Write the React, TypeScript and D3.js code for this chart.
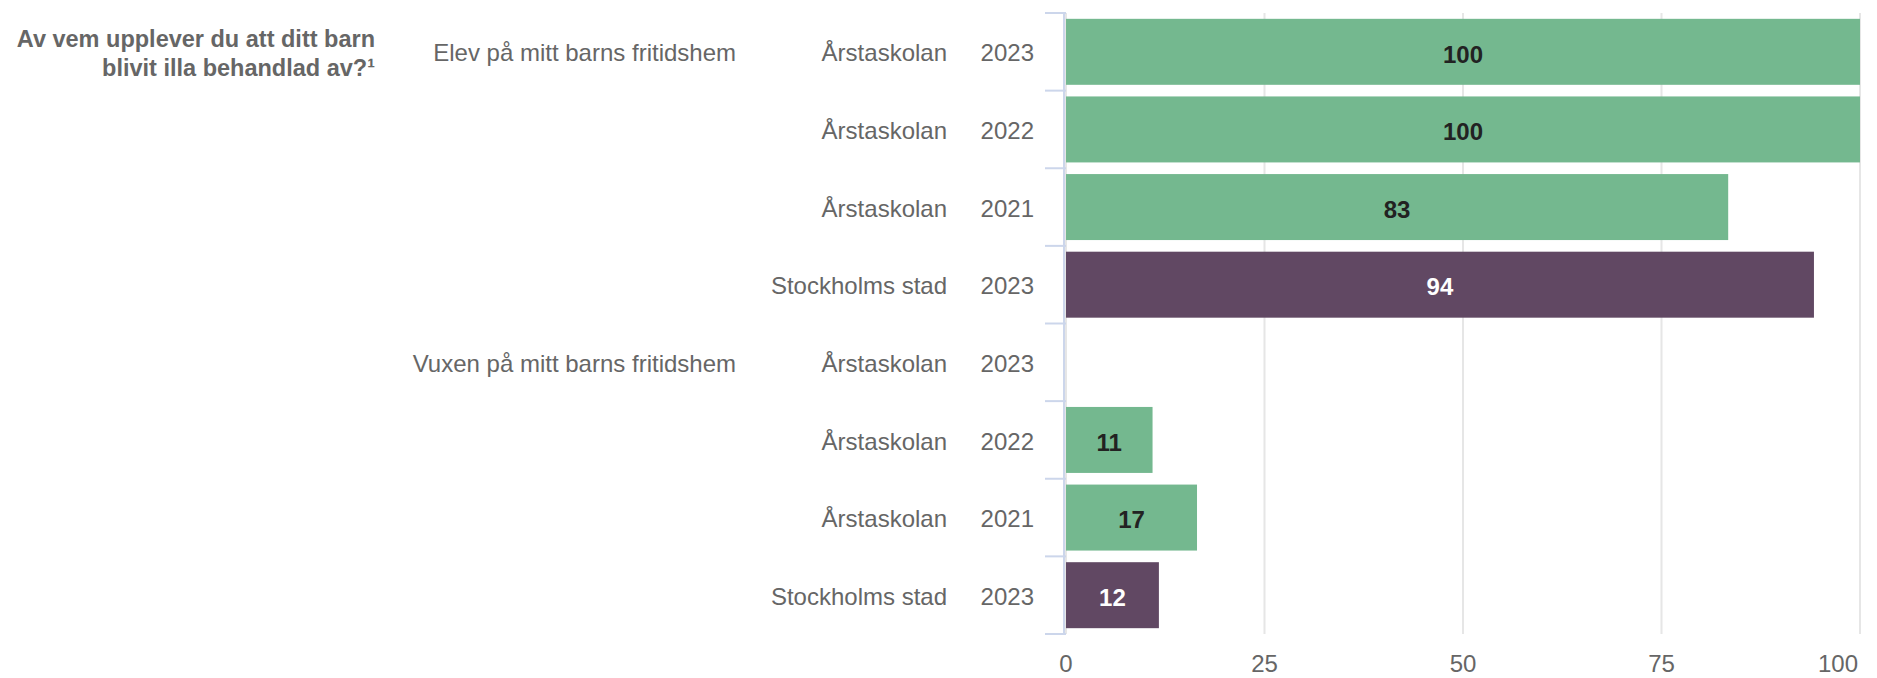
import * as d3 from "d3"

const title = ["Av vem upplever du att ditt barn", "blivit illa behandlad av?¹"]
const groups = ["Elev på mitt barns fritidshem", "Vuxen på mitt barns fritidshem"]
const units = ["Årstaskolan", "Årstaskolan", "Årstaskolan", "Stockholms stad"]
const years = ["2023", "2022", "2021", "2023"]
const elevValues = [100, 100, 83.4, 94.2]
const vuxenValues: (number | null)[] = [null, 10.9, 16.5, 11.7]
const xTicks = [0, 25, 50, 75, 100]

const W = 1877
const H = 678
const green = "#74b88f"
const purple = "#614863"
const labelColor = "#666666"
const font = "'Liberation Sans', Arial, sans-serif"

type Row = {
  id: string
  group: string | null
  unit: string
  year: string
  value: number | null
  city: boolean
}

const rows: Row[] = [elevValues, vuxenValues].flatMap((vals, g) =>
  vals.map((v, i) => ({
    id: `${g}-${i}`,
    group: i === 0 ? groups[g] : null,
    unit: units[i],
    year: years[i],
    value: v,
    city: units[i] === "Stockholms stad",
  })),
)

export default function App() {
  const top = 13
  const bottom = 634
  const x = d3.scaleLinear().domain([0, 100]).range([1066, 1860])
  const y = d3
    .scaleBand()
    .domain(rows.map((r) => r.id))
    .range([top, bottom])
    .paddingInner(0.15)
    .paddingOuter(0.075)

  const step = y.step()
  const boundaries = d3.range(rows.length + 1).map((i) => top + i * step)

  return (
    <svg
      width={W}
      height={H}
      viewBox={`0 0 ${W} ${H}`}
      style={{ position: "absolute", left: 0, top: 0, background: "#fff" }}
      fontFamily={font}
    >
      {/* grid */}
      {xTicks.map((t) => (
        <line key={t} x1={x(t)} x2={x(t)} y1={top} y2={bottom} stroke="#e6e6e6" strokeWidth={2} />
      ))}

      {/* category axis */}
      <line x1={1064} x2={1064} y1={top} y2={bottom} stroke="#ccd6eb" strokeWidth={2} />
      {boundaries.map((b, i) => (
        <line key={i} x1={1045} x2={1066} y1={b} y2={b} stroke="#ccd6eb" strokeWidth={2} />
      ))}

      {/* bars */}
      {rows.map((r) =>
        r.value == null ? null : (
          <g key={r.id}>
            <rect
              x={x(0)}
              y={y(r.id)}
              width={x(r.value) - x(0)}
              height={y.bandwidth()}
              fill={r.city ? purple : green}
            />
            <text
              x={(x(0) + x(r.value)) / 2}
              y={(y(r.id) || 0) + y.bandwidth() / 2}
              dy="0.45em"
              textAnchor="middle"
              fontSize={24}
              fontWeight={700}
              fill={r.city ? "#ffffff" : "#222222"}
            >
              {Math.round(r.value)}
            </text>
          </g>
        ),
      )}

      {/* row labels */}
      {rows.map((r) => {
        const cy = (y(r.id) || 0) + y.bandwidth() / 2
        return (
          <g key={r.id} fontSize={24} fill={labelColor}>
            <text x={1034} y={cy} dy="0.4em" textAnchor="end">
              {r.year}
            </text>
            <text x={947} y={cy} dy="0.4em" textAnchor="end">
              {r.unit}
            </text>
            {r.group && (
              <text x={736} y={cy} dy="0.4em" textAnchor="end">
                {r.group}
              </text>
            )}
          </g>
        )
      })}

      {/* title */}
      <text fontSize={23.5} fontWeight={700} fill={labelColor} textAnchor="end">
        {title.map((t, i) => (
          <tspan key={i} x={375} y={47 + i * 29}>
            {t}
          </tspan>
        ))}
      </text>

      {/* x axis labels */}
      {xTicks.map((t, i) => (
        <text
          key={t}
          x={i === xTicks.length - 1 ? x(t) - 2 : x(t)}
          y={664}
          dy="0.35em"
          textAnchor={i === xTicks.length - 1 ? "end" : "middle"}
          fontSize={24}
          fill={labelColor}
        >
          {t}
        </text>
      ))}
    </svg>
  )
}
